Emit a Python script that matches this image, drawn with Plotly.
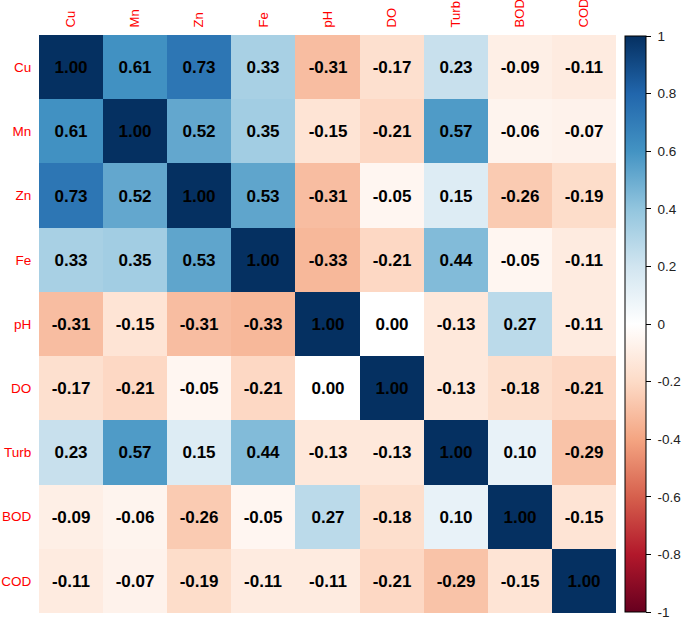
import plotly.graph_objects as go

labels = ["Cu", "Mn", "Zn", "Fe", "pH", "DO", "Turb", "BOD", "COD"]
corr = [
    [1.00, 0.61, 0.73, 0.33, -0.31, -0.17, 0.23, -0.09, -0.11],
    [0.61, 1.00, 0.52, 0.35, -0.15, -0.21, 0.57, -0.06, -0.07],
    [0.73, 0.52, 1.00, 0.53, -0.31, -0.05, 0.15, -0.26, -0.19],
    [0.33, 0.35, 0.53, 1.00, -0.33, -0.21, 0.44, -0.05, -0.11],
    [-0.31, -0.15, -0.31, -0.33, 1.00, 0.00, -0.13, 0.27, -0.11],
    [-0.17, -0.21, -0.05, -0.21, 0.00, 1.00, -0.13, -0.18, -0.21],
    [0.23, 0.57, 0.15, 0.44, -0.13, -0.13, 1.00, 0.10, -0.29],
    [-0.09, -0.06, -0.26, -0.05, 0.27, -0.18, 0.10, 1.00, -0.15],
    [-0.11, -0.07, -0.19, -0.11, -0.11, -0.21, -0.29, -0.15, 1.00],
]
cbar_ticks = [-1, -0.8, -0.6, -0.4, -0.2, 0, 0.2, 0.4, 0.6, 0.8, 1]

cols = ["#67001F", "#B2182B", "#D6604D", "#F4A582", "#FDDBC7", "#FFFFFF",
        "#D1E5F0", "#92C5DE", "#4393C3", "#2166AC", "#053061"]
colorscale = [[i / (len(cols) - 1), c] for i, c in enumerate(cols)]

W, H = 683, 620
L, R, T, B = 39, 67, 35, 7
plot_w = W - L - R

fig = go.Figure(go.Heatmap(
    z=corr, x=labels, y=labels,
    zmin=-1, zmax=1, colorscale=colorscale,
    texttemplate="<b>%{z:.2f}</b>",
    textfont=dict(family="Liberation Sans, Arial", size=17, color="black"),
    colorbar=dict(
        x=(625 - L) / plot_w, xanchor="left", xpad=0, ypad=0,
        thickness=21, len=576, lenmode="pixels", y=0.5, yanchor="middle",
        outlinecolor="black", outlinewidth=1,
        tickvals=[v * 0.99999 for v in cbar_ticks],
        ticktext=["\u00a0" + ("%g" % v) for v in cbar_ticks],
        ticks="outside", ticklen=5, tickcolor="black",
        tickfont=dict(family="Liberation Sans, Arial", size=13.5, color="#222"),
    ),
    hoverongaps=False,
))

fig.update_layout(
    width=W, height=H,
    margin=dict(l=L, r=R, t=T, b=B, autoexpand=False),
    paper_bgcolor="white", plot_bgcolor="white",
    xaxis=dict(side="top", tickangle=-90, showgrid=False, zeroline=False,
               automargin=False,
               ticks="outside", ticklen=4, tickcolor="rgba(0,0,0,0)",
               tickfont=dict(family="Liberation Sans, Arial", size=13, color="#FF0000")),
    yaxis=dict(autorange="reversed", showgrid=False, zeroline=False,
               automargin=False,
               ticks="outside", ticklen=4, tickcolor="rgba(0,0,0,0)",
               tickfont=dict(family="Liberation Sans, Arial", size=13.5, color="#FF0000")),
)

fig.write_html("out.html")
